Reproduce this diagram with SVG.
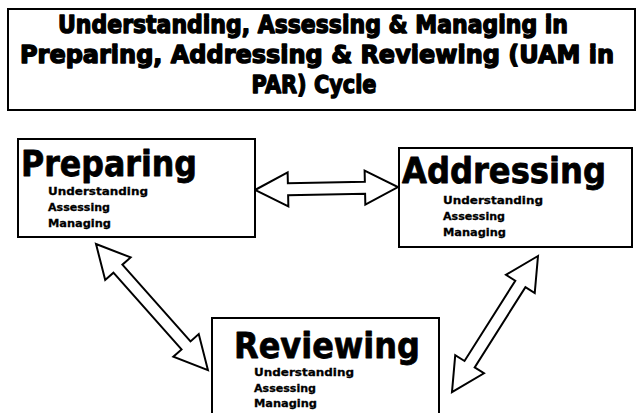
<svg xmlns="http://www.w3.org/2000/svg" width="637" height="413" viewBox="0 0 637 413">
<style>
.box{fill:#fff;stroke:#000;stroke-width:2}
.title{font-family:"DejaVu Sans",sans-serif;font-weight:bold;font-size:24px;fill:#000;stroke:#000;stroke-width:1.4;stroke-linejoin:round;text-anchor:middle}
.big{font-family:"DejaVu Sans",sans-serif;font-weight:bold;font-size:36px;fill:#000;stroke:#000;stroke-width:0.8;stroke-linejoin:round}
.sub{font-family:"DejaVu Sans",sans-serif;font-weight:bold;font-size:11px;fill:#000;stroke:#000;stroke-width:0.3}
.arrow{fill:#fff;stroke:#000;stroke-width:2;stroke-linejoin:miter}
</style>
<rect width="637" height="413" fill="#fff"/>
<g id="title">
<rect class="box" x="8" y="9" width="627" height="101"/>
<text class="title" x="313" y="33" textLength="510" lengthAdjust="spacingAndGlyphs">Understanding, Assessing &amp; Managing in</text>
<text class="title" x="317" y="63" textLength="594" lengthAdjust="spacingAndGlyphs">Preparing, Addressing &amp; Reviewing (UAM in</text>
<text class="title" x="314" y="93" textLength="125" lengthAdjust="spacingAndGlyphs">PAR) Cycle</text>
</g>
<g id="connectors">
<polygon class="arrow" transform="translate(255,190) rotate(-1.2)" points="0,0 33,-17 33,-6 110,-6 110,-17 143,0 110,17 110,6 33,6 33,17"/>
<polygon class="arrow" transform="translate(96,244) rotate(48.4)" points="0,0 33,-17 33,-6 135.6,-6 135.6,-17 168.6,0 135.6,17 135.6,6 33,6 33,17"/>
<polygon class="arrow" transform="translate(538,256) rotate(122.3)" points="0,0 33,-17 33,-6 128,-6 128,-17 161,0 128,17 128,6 33,6 33,17"/>
</g>
<g id="preparing">
<rect class="box" x="18" y="139" width="237" height="98"/>
<text class="big" x="21" y="176" textLength="176" lengthAdjust="spacingAndGlyphs">Preparing</text>
<text class="sub" x="48" y="195" textLength="100" lengthAdjust="spacingAndGlyphs">Understanding</text>
<text class="sub" x="48" y="211" textLength="62" lengthAdjust="spacingAndGlyphs">Assessing</text>
<text class="sub" x="48" y="227" textLength="63" lengthAdjust="spacingAndGlyphs">Managing</text>
</g>
<g id="addressing">
<rect class="box" x="399" y="148" width="233" height="99"/>
<text class="big" x="402" y="183" textLength="204" lengthAdjust="spacingAndGlyphs">Addressing</text>
<text class="sub" x="443" y="204" textLength="100" lengthAdjust="spacingAndGlyphs">Understanding</text>
<text class="sub" x="443" y="220" textLength="62" lengthAdjust="spacingAndGlyphs">Assessing</text>
<text class="sub" x="443" y="236" textLength="63" lengthAdjust="spacingAndGlyphs">Managing</text>
</g>
<g id="reviewing">
<rect class="box" x="212" y="318" width="227" height="110"/>
<text class="big" x="234" y="358" textLength="186" lengthAdjust="spacingAndGlyphs">Reviewing</text>
<text class="sub" x="254" y="376" textLength="100" lengthAdjust="spacingAndGlyphs">Understanding</text>
<text class="sub" x="254" y="392" textLength="62" lengthAdjust="spacingAndGlyphs">Assessing</text>
<text class="sub" x="254" y="407" textLength="63" lengthAdjust="spacingAndGlyphs">Managing</text>
</g>
</svg>
